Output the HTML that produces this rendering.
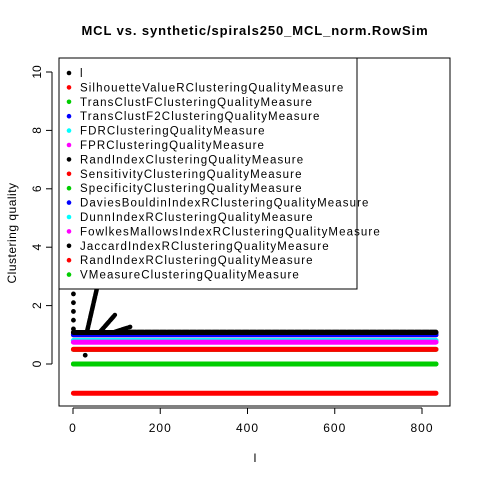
<!DOCTYPE html>
<html><head><meta charset="utf-8"><style>
body{margin:0;background:#fff}
svg text{font-family:"Liberation Sans",sans-serif}
</style></head><body>
<svg id="c" width="480" height="480" xmlns="http://www.w3.org/2000/svg">
<rect width="480" height="480" fill="#fff"/>
<text x="255" y="35" text-anchor="middle" font-size="13" font-weight="bold" letter-spacing="0.9">MCL vs. synthetic/spirals250_MCL_norm.RowSim</text>
<text x="255" y="462" text-anchor="middle" font-size="12">l</text>
<text transform="translate(16,233) rotate(-90)" text-anchor="middle" font-size="12" letter-spacing="0.5">Clustering quality</text>
<g id="marks"></g>
<g id="axes"></g>
<g id="legend"></g>
</svg>
<script>
const xTicks=[0,200,400,600,800];
const yTicks=[0,2,4,6,8,10];
const lineNames=["SilhouetteValue","TransClustF","TransClustF2","FDR","FPR","RandIndex","Sensitivity","Specificity","DaviesBouldin","DunnIndex","FowlkesMallows","Jaccard","RandIndexR","VMeasure"];
const lineValues=[-1,0,0.8,0.8,0.75,1.08,1.0,0.5,1.0,0.8,0.75,1.08,0.5,0];
const lineColors=["#ff0000","#00cd00","#0000ff","#00ffff","#ff00ff","#000000","#ff0000","#00cd00","#0000ff","#00ffff","#ff00ff","#000000","#ff0000","#00cd00"];
const dotX=[1,1,1,1,1,28];
const dotY=[1.2,1.5,1.8,2.1,2.4,0.3];
const segX1=[32,62,96,131];
const segY1=[1.1,1.1,1.1,1.1];
const segX2=[55,96,131,832];
const segY2=[2.6,1.68,1.27,1.1];
const legendLabels=["l","SilhouetteValueRClusteringQualityMeasure","TransClustFClusteringQualityMeasure","TransClustF2ClusteringQualityMeasure","FDRClusteringQualityMeasure","FPRClusteringQualityMeasure","RandIndexClusteringQualityMeasure","SensitivityClusteringQualityMeasure","SpecificityClusteringQualityMeasure","DaviesBouldinIndexRClusteringQualityMeasure","DunnIndexRClusteringQualityMeasure","FowlkesMallowsIndexRClusteringQualityMeasure","JaccardIndexRClusteringQualityMeasure","RandIndexRClusteringQualityMeasure","VMeasureClusteringQualityMeasure"];
const legendColors=["#000","#ff0000","#00cd00","#0000ff","#00ffff","#ff00ff","#000","#ff0000","#00cd00","#0000ff","#00ffff","#ff00ff","#000","#ff0000","#00cd00"];
const xMin=1,xMax=832;
const sx=v=>73+v*(422-73)/800;
const sy=v=>364-v*29.2;
const NS="http://www.w3.org/2000/svg";
function mk(t,a,p){const e=document.createElementNS(NS,t);for(const k in a)e.setAttribute(k,a[k]);p.appendChild(e);return e;}
const marks=document.getElementById('marks'),axes=document.getElementById('axes'),leg=document.getElementById('legend');
lineValues.forEach((v,i)=>{
  const l=mk('line',{x1:sx(xMin),x2:sx(xMax),y1:sy(v),y2:sy(v),stroke:lineColors[i],'stroke-width':5,'stroke-linecap':'round'},marks);
  
  
});
dotX.forEach((x,i)=>{
  const c=mk('circle',{cx:sx(x),cy:sy(dotY[i]),r:2.4,fill:'#000'},marks);
  
  
});
segX1.forEach((x,i)=>{
  const l=mk('line',{x1:sx(x),y1:sy(segY1[i]),x2:sx(segX2[i]),y2:sy(segY2[i]),stroke:'#000','stroke-width':4.5,'stroke-linecap':'round','stroke-dasharray':'6 1.5'},marks);
  
  
});
const box=mk('rect',{x:59,y:58,width:391,height:348,fill:'none',stroke:'#000'},axes);


mk('line',{x1:sx(0),x2:sx(800),y1:408,y2:408,stroke:'#000'},axes);
xTicks.forEach(t=>{mk('line',{x1:sx(t),x2:sx(t),y1:408,y2:414,stroke:'#000'},axes);
  const tx=mk('text',{x:sx(t),y:432,'text-anchor':'middle','font-size':12,'letter-spacing':1},axes);tx.textContent=t;
  
  });
mk('line',{x1:52,x2:52,y1:sy(0),y2:sy(10),stroke:'#000'},axes);
yTicks.forEach(t=>{mk('line',{x1:46,x2:52,y1:sy(t),y2:sy(t),stroke:'#000'},axes);
  const tx=mk('text',{transform:`translate(41,${sy(t)}) rotate(-90)`,'text-anchor':'middle','font-size':12},axes);tx.textContent=t;
  
  });
const lb=mk('rect',{x:59,y:58,width:298,height:231,fill:'#fff',stroke:'#000'},leg);


legendLabels.forEach((s,i)=>{const y=73+i*14.4;
  const g=mk('g',{},leg);
  
  
  mk('circle',{cx:69,cy:y,r:2.3,fill:legendColors[i]},g);
  const t=mk('text',{x:80,y:y+4,'font-size':11.5,'letter-spacing':1.1},g);t.textContent=s;});
</script>
</body></html>
